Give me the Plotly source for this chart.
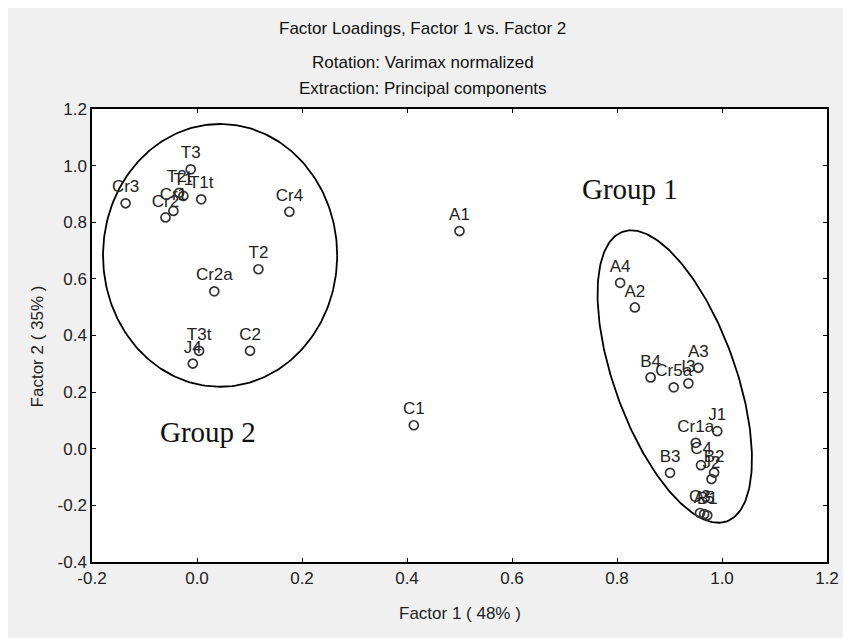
import numpy as np
import plotly.graph_objects as go

# ---- data ----
labels = ["T3", "T2t", "T1", "T1t", "Cr3", "Cr1", "Cr2", "Cr4", "T2", "Cr2a",
          "T3t", "J4", "C2", "A1", "C1", "A4", "A2", "B4", "Cr5a", "I3",
          "A3", "J1", "Cr1a", "C4", "B2", "J2", "B3", "C3", "A5", "B1"]
factor1 = [-0.012, -0.034, -0.026, 0.008, -0.136, -0.045, -0.060, 0.176, 0.117, 0.033,
           0.004, -0.008, 0.101, 0.500, 0.413, 0.806, 0.834, 0.864, 0.908, 0.936,
           0.955, 0.991, 0.950, 0.960, 0.985, 0.980, 0.901, 0.958, 0.966, 0.972]
factor2 = [0.987, 0.904, 0.893, 0.881, 0.867, 0.840, 0.817, 0.837, 0.634, 0.556,
           0.346, 0.301, 0.346, 0.769, 0.083, 0.586, 0.499, 0.252, 0.217, 0.231,
           0.286, 0.062, 0.021, -0.058, -0.084, -0.107, -0.085, -0.227, -0.231, -0.235]

x_ticks = [-0.2, 0.0, 0.2, 0.4, 0.6, 0.8, 1.0, 1.2]
x_tick_text = ["-0.2", "0.0", "0.2", "0.4", "0.6", "0.8", "1.0", "1.2"]
y_ticks = [-0.4, -0.2, 0.0, 0.2, 0.4, 0.6, 0.8, 1.0, 1.2]
y_tick_text = ["-0.4", "-0.2", "0.0", "0.2", "0.4", "0.6", "0.8", "1.0", "1.2"]

title_lines = ["Factor Loadings, Factor 1 vs. Factor 2",
               "Rotation: Varimax normalized",
               "Extraction: Principal components"]
x_title = "Factor 1 ( 48% )"
y_title = "Factor 2 ( 35% )"

# group outlines: (center x, center y, semi-axis A, semi-axis B, tilt deg)
group2_ellipse = dict(cx=0.044, cy=0.683, ra=0.223, rb=0.464, tilt=0.0)   # data units
group1_ellipse = dict(cx=0.910, cy=0.255, ra=154, rb=61, tilt=20.0)       # ra/rb in display px
groups = [("Group 1", 0.8245, 0.918), ("Group 2", 0.0217, 0.060)]

# ---- layout geometry (page has an 8px body margin) ----
W, H = 843, 630
ML, MR, MT, MB = 84, 18, 101, 76
px_x = (W - ML - MR) / 1.4   # px per unit x
px_y = (H - MT - MB) / 1.6   # px per unit y

t = np.linspace(0, 2 * np.pi, 241)

def ellipse_axis_aligned(e):
    return e["cx"] + e["ra"] * np.cos(t), e["cy"] + e["rb"] * np.sin(t)

def ellipse_tilted_px(e):
    th = np.radians(e["tilt"])
    ux, uy = -np.sin(th), -np.cos(th)   # major axis (screen, y down)
    vx, vy = np.cos(th), -np.sin(th)
    dx = e["ra"] * np.cos(t) * ux + e["rb"] * np.sin(t) * vx
    dy = e["ra"] * np.cos(t) * uy + e["rb"] * np.sin(t) * vy
    return e["cx"] + dx / px_x, e["cy"] - dy / px_y

fig = go.Figure()

for ex, ey in [ellipse_axis_aligned(group2_ellipse), ellipse_tilted_px(group1_ellipse)]:
    fig.add_trace(go.Scatter(x=ex, y=ey, mode="lines",
                             line=dict(color="black", width=1.8),
                             hoverinfo="skip", showlegend=False))

fig.add_trace(go.Scatter(
    x=factor1, y=factor2, mode="markers+text", text=labels,
    textposition="top center",
    textfont=dict(family="Liberation Sans, Arial", size=17, color="#222222"),
    marker=dict(symbol="circle-open", size=9, color="#333333",
                line=dict(width=1.7, color="#333333")),
    showlegend=False))

FONT = "Liberation Sans, Arial"
annotations = []
for txt, yp in zip(title_lines, [1.178, 1.103, 1.046]):
    annotations.append(dict(text=txt, xref="paper", yref="paper", x=0.45, y=yp,
                            xanchor="center", yanchor="middle", showarrow=False,
                            font=dict(family=FONT, size=17, color="#111111")))
annotations.append(dict(text=x_title, xref="paper", yref="paper", x=0.5, y=-0.113,
                        xanchor="center", yanchor="middle", showarrow=False,
                        font=dict(family=FONT, size=17, color="#222222")))
annotations.append(dict(text=y_title, xref="paper", yref="paper", x=-0.074, y=0.475,
                        xanchor="center", yanchor="middle", showarrow=False, textangle=-90,
                        font=dict(family=FONT, size=17, color="#222222")))
for name, gx, gy in groups:
    annotations.append(dict(text=name, x=gx, y=gy, xref="x", yref="y",
                            xanchor="center", yanchor="middle", showarrow=False,
                            font=dict(family="Liberation Serif, Times New Roman", size=29,
                                      color="#111111")))

axis_common = dict(showgrid=False, zeroline=False, showline=True, linecolor="black",
                   linewidth=1.5, mirror="ticks", ticks="inside", ticklen=4,
                   tickcolor="black", tickwidth=1,
                   tickfont=dict(family=FONT, size=17, color="#222222"))

fig.update_layout(
    width=W, height=H,
    margin=dict(l=ML, r=MR, t=MT, b=MB),
    paper_bgcolor="#f0f0f0", plot_bgcolor="white",
    xaxis=dict(range=[-0.2, 1.2], tickvals=x_ticks, ticktext=x_tick_text, **axis_common),
    yaxis=dict(range=[-0.4, 1.2], tickvals=y_ticks, ticktext=y_tick_text, **axis_common),
    annotations=annotations,
    showlegend=False,
)

fig.write_html("out.html")
